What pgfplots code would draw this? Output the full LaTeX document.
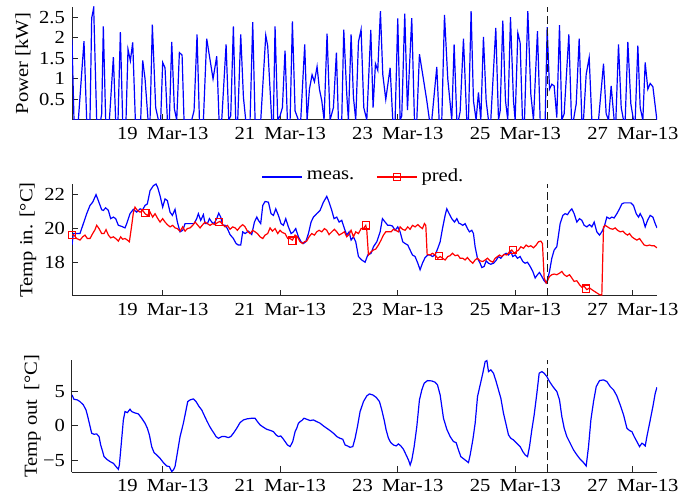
\documentclass[border=0pt]{standalone}
\usepackage{fontspec}
\setmainfont[FakeStretch=1.12]{Liberation Serif}
\usepackage{pgfplots}
\pgfplotsset{compat=1.18}

\pgfplotsset{
  panel/.style={scale only axis, width=292.5pt, anchor=south west,
    axis x line=bottom, axis y line=left,
    axis line style={-, black!85, line width=0.5pt},
    tick align=inside, major tick length=3pt,
    tick style={black!85, line width=0.5pt},
    xmin=17.456, xmax=27.41, xtick={19,21,23,25,27},
    xticklabels={{19\enspace Mar-13},{21\enspace Mar-13},{23\enspace Mar-13},{25\enspace Mar-13},{27\enspace Mar-13}},
    clip=true},
  ylabelx/.style={ylabel style={at={(axis description cs:#1,0.5)},anchor=center}},
  sep/.style={black!90, dash pattern=on 4pt off 2pt, line width=0.75pt, forget plot}
}

\begin{document}
\begin{tikzpicture}[font=\fontsize{9.2}{11}\selectfont]
\useasboundingbox (0,0) rectangle (346.5pt,248.5pt);

% power
\begin{axis}[panel, at={(36pt,188.5pt)}, height=56.5pt,
  ymin=0, ymax=2.75, ytick={0.5,1,1.5,2,2.5}, yticklabels={0.5,1,1.5,2,2.5},
  ylabel={Power [kW]}, ylabelx=-0.0838]
\addplot[blue, line width=0.6pt] coordinates {
(17.456,1.96) (17.490,0) (17.564,0) (17.660,1.92) (17.706,0) (17.762,0) (17.791,2.48) (17.825,2.73) (17.876,0) (17.944,0) (17.961,0.15) (17.989,2.28) (18.029,0) (18.092,0) (18.160,1.53) (18.199,0) (18.239,0) (18.279,2.14) (18.318,0) (18.375,0) (18.409,1.72) (18.449,1.44) (18.489,1.89) (18.534,0) (18.625,0) (18.659,1.45) (18.699,1.0) (18.750,0) (18.784,0) (18.823,2.32) (18.880,0.3) (18.926,0) (18.965,0) (18.999,1.4) (19.039,1.27) (19.079,0) (19.113,0) (19.153,1.9) (19.198,0.27) (19.238,0) (19.283,1.64) (19.329,1.58) (19.362,0) (19.493,0) (19.533,0.23) (19.584,2.08) (19.624,0) (19.692,0) (19.748,1.98) (19.856,1.0) (19.919,1.55) (19.958,0) (20.004,0) (20.078,1.84) (20.123,0) (20.157,0.1) (20.202,2.28) (20.242,0) (20.276,0) (20.327,2.08) (20.373,0.55) (20.412,0) (20.486,0) (20.531,2.38) (20.571,0) (20.668,0) (20.753,2.06)
(20.786,1.8) (20.854,0) (20.883,0) (20.911,2.28) (20.957,0) (20.996,0.1) (21.036,0.3) (21.081,1.69) (21.121,0) (21.167,0) (21.206,2.4) (21.252,0.22) (21.308,0) (21.348,0) (21.416,1.84) (21.456,0) (21.496,0.75) (21.541,1.1) (21.581,0.93) (21.626,1.3) (21.666,0.75) (21.706,0.47) (21.745,0) (21.796,2.1) (21.847,0) (21.904,0.3) (21.955,1.64) (21.989,0) (22.046,0) (22.080,2.2) (22.131,0.63) (22.159,0) (22.205,2.08) (22.245,0.55) (22.284,0) (22.330,1.9) (22.375,2.2) (22.421,0.3) (22.472,0) (22.540,2.19) (22.579,0.3) (22.619,1.37) (22.659,1.21) (22.704,2.65) (22.744,1.11) (22.795,0.5) (22.869,1.27) (22.914,0) (22.954,0) (22.999,2.47) (23.039,0) (23.067,0.1) (23.118,2.59) (23.164,0.24) (23.237,2.48) (23.283,0) (23.323,0) (23.368,1.6) (23.436,0.99) (23.493,0.47) (23.538,0) (23.578,0) (23.663,1.29) (23.703,0) (23.748,0) (23.794,2.56) (23.850,1.0) (23.918,0) (23.958,1.84) (24.004,0) (24.032,0)
(24.060,0.2) (24.117,1.98) (24.173,0) (24.202,0) (24.247,2.65) (24.287,0.47) (24.332,0) (24.372,0.67) (24.412,0) (24.457,2.02) (24.503,0.47) (24.542,0) (24.582,0) (24.667,2.24) (24.713,0) (24.741,0.22) (24.786,2.42) (24.832,0.47) (24.871,0) (24.917,2.5) (24.968,0.47) (24.996,0) (25.042,2.12) (25.081,1.88) (25.121,0) (25.155,0) (25.212,2.65) (25.263,0.63) (25.308,0) (25.376,2.16) (25.422,0) (25.507,0) (25.541,2.26) (25.581,0.75) (25.620,0.87) (25.660,0.83) (25.705,0.06) (25.751,2.31) (25.791,0) (25.830,0.15) (25.910,2.08) (25.955,0) (25.989,0) (26.035,0.39) (26.086,1.98) (26.131,0) (26.159,0) (26.205,1.11) (26.256,1.52) (26.301,0) (26.415,0) (26.500,1.37) (26.545,0.15) (26.585,0) (26.630,0.83) (26.681,0) (26.710,0) (26.755,1.84) (26.801,0.3) (26.840,0) (26.869,0) (26.914,1.9) (26.965,0.39) (27.010,0) (27.039,0) (27.084,1.81) (27.124,0.3) (27.169,0) (27.209,1.4) (27.254,0.75) (27.294,0.89) (27.340,0.81) (27.408,0)
};
\addplot[sep] coordinates {(25.545,0) (25.545,2.75)};
\end{axis}

% indoor temperature
\begin{axis}[panel, at={(36pt,100.5pt)}, height=56pt,
  ymin=16.07, ymax=22.6, ytick={18,20,22}, yticklabels={18,20,22},
  ylabel={Temp in. [°C]}, ylabelx=-0.0752,
  legend style={draw=none, fill=none, at={(0.5,1.0625)}, anchor=center,
    legend columns=-1, inner sep=0pt,
    /tikz/every even column/.append style={column sep=9pt}},
  legend image code/.code={\draw[mark repeat=2,mark phase=2,#1] plot coordinates {(0pt,0pt) (10pt,0pt) (20pt,0pt)};}]
\addplot[blue, line width=0.6pt] coordinates {
(17.456,19.04) (17.479,19.71) (17.592,19.71) (17.649,20.29) (17.706,20.87) (17.762,21.35) (17.808,21.54) (17.865,21.98) (17.904,21.63) (17.961,21.10) (17.989,21.06) (18.029,21.21) (18.075,21.06) (18.114,20.58) (18.160,20.67) (18.199,20.58) (18.245,20.19) (18.301,20.13) (18.358,20.04) (18.387,20.29) (18.443,20.87) (18.500,21.12) (18.557,20.96) (18.614,21.15) (18.659,21.10) (18.699,21.35) (18.738,21.44) (18.784,22.21) (18.840,22.50) (18.886,22.60) (18.914,22.40) (18.954,21.92) (18.999,21.25) (19.039,21.73) (19.079,21.63) (19.124,20.96) (19.164,20.77) (19.209,21.12) (19.249,20.38) (19.294,19.81) (19.340,19.90) (19.380,20.29) (19.465,20.29) (19.533,20.29) (19.578,20.58) (19.606,20.87) (19.646,20.48) (19.692,20.81) (19.720,20.29) (19.760,20.29) (19.794,20.58) (19.833,20.38) (19.873,20.29) (19.918,20.58) (19.953,20.90) (19.987,20.67) (20.021,20.19) (20.060,20.19) (20.100,20.00) (20.145,19.65) (20.202,19.42) (20.248,19.13) (20.287,19.04) (20.327,19.04) (20.361,19.81) (20.401,19.71) (20.458,19.85) (20.514,19.65) (20.560,20.38) (20.600,20.67) (20.628,20.48) (20.667,20.29) (20.702,21.35) (20.741,21.58)
(20.798,21.54) (20.843,20.87) (20.883,20.77) (20.923,21.15) (20.968,20.77) (21.013,20.29) (21.053,20.19) (21.093,20.58) (21.138,20.10) (21.184,19.71) (21.223,19.81) (21.263,20.00) (21.308,19.52) (21.354,19.23) (21.394,19.13) (21.433,19.23) (21.479,19.71) (21.524,20.38) (21.564,20.67) (21.620,20.87) (21.677,21.06) (21.734,21.54) (21.791,21.88) (21.830,21.54) (21.876,21.06) (21.915,20.58) (21.961,20.67) (22.001,20.38) (22.046,20.48) (22.091,20.00) (22.131,19.62) (22.171,19.81) (22.205,19.33) (22.245,19.52) (22.284,19.23) (22.330,18.37) (22.386,18.17) (22.443,18.04) (22.489,18.46) (22.545,18.56) (22.585,18.94) (22.642,19.23) (22.699,19.81) (22.738,20.58) (22.784,20.38) (22.829,20.19) (22.869,20.19) (22.908,20.15) (22.954,19.90) (22.999,20.10) (23.039,19.81) (23.084,19.23) (23.124,19.13) (23.169,19.04) (23.209,18.75) (23.249,18.46) (23.294,18.37) (23.340,17.98) (23.379,17.60) (23.419,17.98) (23.464,18.31) (23.510,18.46) (23.550,18.46) (23.589,18.37) (23.635,18.46) (23.680,18.85) (23.720,19.23) (23.760,20.00) (23.805,20.77) (23.833,21.15) (23.873,20.87) (23.918,20.58) (23.964,20.38) (24.004,20.58) (24.043,20.29)
(24.060,20.29) (24.105,20.19) (24.145,20.29) (24.185,20.00) (24.219,19.81) (24.259,19.90) (24.287,19.71) (24.315,18.94) (24.355,18.27) (24.400,17.98) (24.429,17.73) (24.469,17.79) (24.503,18.12) (24.542,17.98) (24.582,17.92) (24.627,17.98) (24.667,18.12) (24.713,18.37) (24.752,18.27) (24.798,18.46) (24.843,18.56) (24.883,18.46) (24.922,18.65) (24.956,18.37) (24.996,18.46) (25.036,18.27) (25.081,18.37) (25.127,18.08) (25.166,17.98) (25.206,18.04) (25.252,17.79) (25.297,17.50) (25.337,17.12) (25.376,17.31) (25.410,17.44) (25.450,17.21) (25.490,16.96) (25.524,16.83) (25.547,17.02) (25.581,17.50) (25.620,18.27) (25.660,18.75) (25.705,18.94) (25.734,19.62) (25.762,20.29) (25.808,20.77) (25.847,20.87) (25.887,20.81) (25.921,21.00) (25.961,21.15) (26.000,20.87) (26.046,20.38) (26.091,20.58) (26.131,20.48) (26.171,20.19) (26.216,20.10) (26.262,20.23) (26.301,20.10) (26.341,20.38) (26.386,19.81) (26.432,19.62) (26.471,19.81) (26.511,20.10) (26.557,20.67) (26.602,20.58) (26.642,20.67) (26.681,20.62) (26.727,20.87) (26.772,21.15) (26.812,21.44) (26.852,21.50) (26.925,21.50) (26.965,21.50) (27.010,21.35) (27.056,20.87) (27.096,20.67) (27.124,20.87) (27.169,20.58) (27.209,20.10) (27.249,20.48) (27.294,20.77) (27.340,20.67) (27.379,20.29) (27.410,20.04)
};
\addlegendentry{meas.}
\addplot[red, line width=0.6pt, legend image post style={mark=square, mark size=1.8pt, mark options={red}}] coordinates {
(17.456,19.65) (17.490,19.62) (17.535,19.42) (17.592,19.33) (17.638,19.52) (17.677,19.62) (17.717,19.42) (17.762,19.42) (17.808,19.71) (17.848,19.94) (17.876,20.19) (17.916,20.00) (17.961,19.71) (18.001,19.71) (18.035,19.94) (18.075,19.62) (18.114,19.46) (18.160,19.52) (18.199,19.42) (18.245,19.27) (18.284,19.52) (18.318,19.38) (18.358,19.42) (18.398,19.33) (18.432,19.23) (18.472,20.19) (18.500,20.92) (18.528,21.25) (18.568,21.06) (18.614,20.96) (18.659,21.06) (18.699,20.87) (18.738,20.77) (18.784,20.96) (18.829,20.67) (18.869,20.87) (18.909,20.62) (18.954,20.38) (18.999,20.58) (19.039,20.38) (19.079,20.23) (19.124,20.10) (19.170,20.19) (19.209,20.04) (19.249,20.00) (19.294,19.85) (19.340,20.10) (19.380,19.85) (19.419,20.00) (19.465,20.04) (19.510,20.19) (19.550,20.38) (19.589,20.23) (19.635,20.04) (19.680,20.23) (19.720,20.38) (19.760,20.29) (19.805,20.19) (19.850,20.29) (19.890,20.23) (19.930,20.35) (19.975,20.42) (20.021,20.23) (20.060,20.10) (20.100,20.19) (20.145,19.96) (20.191,20.10) (20.231,20.04) (20.270,19.90) (20.316,20.10) (20.361,20.23) (20.401,20.10) (20.441,19.85) (20.486,19.71) (20.531,19.90) (20.571,19.81) (20.611,19.71) (20.656,19.52) (20.702,19.42) (20.741,19.62)
(20.786,19.71) (20.826,20.04) (20.866,19.85) (20.911,20.00) (20.957,19.71) (20.996,19.90) (21.036,19.77) (21.081,19.71) (21.127,19.42) (21.167,19.42) (21.206,19.33) (21.252,19.62) (21.291,19.52) (21.337,19.23) (21.377,19.13) (21.411,19.23) (21.450,19.27) (21.490,19.52) (21.535,19.71) (21.581,19.62) (21.620,19.81) (21.660,19.90) (21.706,19.81) (21.751,20.00) (21.791,19.90) (21.830,19.65) (21.876,19.81) (21.921,19.96) (21.961,19.81) (22.001,19.62) (22.046,19.71) (22.091,19.81) (22.131,19.52) (22.171,19.67) (22.205,19.90) (22.245,19.52) (22.284,19.81) (22.330,19.71) (22.375,20.00) (22.415,20.00) (22.455,20.19) (22.472,19.90) (22.500,18.46) (22.545,18.65) (22.585,18.75) (22.625,18.81) (22.670,19.04) (22.715,19.33) (22.755,19.62) (22.795,19.81) (22.840,19.81) (22.886,19.81) (22.925,19.96) (22.965,19.90) (23.011,19.81) (23.039,20.10) (23.079,19.96) (23.124,19.90) (23.169,20.10) (23.209,19.96) (23.249,20.19) (23.294,20.10) (23.340,20.23) (23.379,20.10) (23.419,20.00) (23.453,20.29) (23.476,20.19) (23.499,18.50) (23.550,18.46) (23.589,18.56) (23.635,18.46) (23.680,18.27) (23.720,18.37) (23.760,18.27) (23.805,18.17) (23.850,18.37) (23.890,18.42) (23.930,18.56) (23.975,18.42) (24.021,18.46) (24.060,18.27)
(24.105,18.27) (24.145,18.17) (24.185,18.31) (24.230,18.12) (24.276,17.98) (24.315,18.17) (24.355,18.27) (24.400,18.12) (24.446,18.08) (24.486,18.17) (24.525,18.27) (24.571,18.12) (24.616,18.04) (24.656,18.27) (24.696,18.37) (24.730,18.46) (24.769,18.37) (24.809,18.50) (24.854,18.46) (24.900,18.65) (24.939,18.75) (24.979,18.56) (25.013,18.65) (25.053,18.75) (25.093,18.94) (25.138,18.85) (25.183,19.04) (25.223,18.94) (25.263,19.00) (25.308,18.88) (25.354,19.04) (25.393,19.23) (25.433,19.27) (25.461,19.13) (25.490,17.12) (25.524,16.83) (25.547,16.96) (25.581,17.21) (25.620,17.31) (25.660,17.35) (25.705,17.31) (25.751,17.40) (25.791,17.50) (25.830,17.31) (25.876,17.21) (25.921,17.31) (25.961,17.12) (26.000,16.92) (26.046,16.96) (26.091,16.73) (26.131,16.58) (26.171,16.63) (26.216,16.44) (26.262,16.54) (26.301,16.44) (26.341,16.35) (26.386,16.25) (26.432,16.15) (26.471,16.12) (26.500,20.10) (26.528,20.19) (26.568,20.10) (26.613,20.00) (26.659,19.96) (26.698,20.04) (26.738,19.90) (26.784,19.81) (26.829,19.85) (26.869,19.71) (26.908,19.62) (26.942,19.71) (26.982,19.52) (27.022,19.42) (27.067,19.33) (27.113,19.42) (27.152,19.23) (27.192,19.04) (27.238,19.00) (27.283,19.04) (27.322,19.00) (27.362,19.00) (27.408,18.88)
};
\addlegendentry{pred.}
\addplot[red, only marks, mark=square, mark size=1.8pt, mark options={line width=0.6pt}, forget plot] coordinates {
(17.456,19.62) (18.704,20.90) (19.953,20.38) (21.206,19.30) (22.455,20.19) (23.703,18.40) (24.956,18.75) (26.205,16.50)
};
\addplot[sep] coordinates {(25.545,16.07) (25.545,22.6)};
\end{axis}

% outdoor temperature
\begin{axis}[panel, at={(36pt,12.35pt)}, height=56.15pt,
  ymin=-6.75, ymax=9.6, ytick={-5,0,5}, yticklabels={−5,0,5},
  ylabel={Temp out\enspace[°C]}, ylabelx=-0.0675]
\addplot[blue, line width=0.6pt] coordinates {
(17.456,4.51) (17.490,3.88) (17.547,3.79) (17.592,3.54) (17.649,3.06) (17.694,2.33) (17.717,1.60) (17.751,0.39) (17.791,-1.07) (17.831,-1.21) (17.876,-1.17) (17.916,-1.55) (17.944,-2.77) (17.978,-3.74) (18.001,-4.47) (18.046,-4.85) (18.103,-5.19) (18.160,-5.44) (18.205,-5.92) (18.245,-6.31) (18.262,-5.68) (18.285,-3.50) (18.330,0.87) (18.358,2.09) (18.398,1.94) (18.443,2.43) (18.472,2.09) (18.511,1.94) (18.585,1.75) (18.642,1.12) (18.699,0.39) (18.738,-0.34) (18.773,-1.31) (18.812,-3.01) (18.852,-3.88) (18.897,-4.22) (18.954,-4.71) (19.011,-5.34) (19.068,-5.83) (19.113,-5.92) (19.153,-6.65) (19.181,-6.41) (19.209,-5.92) (19.238,-4.47) (19.295,-1.55) (19.323,-0.58) (19.351,0.39) (19.397,2.33) (19.425,3.54) (19.465,3.79) (19.521,3.93) (19.567,3.54) (19.618,2.82) (19.663,2.33) (19.703,1.60) (19.748,0.78) (19.794,0) (19.834,-0.58) (19.873,-1.07) (19.907,-1.55) (19.947,-1.80) (20.004,-1.55) (20.061,-1.55) (20.117,-1.70) (20.157,-1.55) (20.202,-1.07) (20.259,-0.34) (20.316,0.49) (20.373,0.87) (20.429,1.02) (20.514,1.12) (20.571,1.12) (20.611,0.63) (20.656,0.15) (20.713,-0.19) (20.770,-0.49) (20.838,-0.68) (20.883,-0.83) (20.929,-1.31) (20.968,-1.55) (21.008,-1.46) (21.042,-1.80) (21.082,-2.28) (21.122,-2.77) (21.167,-3.01) (21.212,-2.28) (21.252,-0.83) (21.280,-0.34) (21.309,0.39) (21.337,0.63) (21.366,0.78) (21.405,1.12) (21.451,0.97) (21.507,0.78) (21.564,0.87) (21.621,0.63) (21.678,0.39) (21.734,0) (21.791,-0.34) (21.848,-0.68) (21.905,-1.07) (21.961,-1.55) (22.018,-1.80)
(22.063,-1.94) (22.103,-2.77) (22.143,-2.91) (22.188,-3.11) (22.234,-3.01) (22.273,-1.80) (22.313,-0.10) (22.358,2.09) (22.415,3.54) (22.472,4.37) (22.517,4.66) (22.574,4.51) (22.631,4.17) (22.688,3.54) (22.727,2.33) (22.767,0.87) (22.801,-0.58) (22.841,-1.80) (22.880,-2.43) (22.926,-2.77) (22.971,-2.91) (23.011,-2.62) (23.051,-2.91) (23.096,-3.40) (23.141,-4.22) (23.181,-4.95) (23.210,-5.68) (23.238,-4.95) (23.278,-3.01) (23.323,-0.10) (23.368,3.79) (23.408,5.24) (23.448,6.21) (23.505,6.60) (23.578,6.55) (23.635,6.36) (23.675,5.97) (23.720,4.51) (23.777,1.12) (23.834,-0.49) (23.890,-1.55) (23.947,-2.28) (23.992,-2.43) (24.032,-3.50) (24.072,-4.47) (24.129,-4.85) (24.202,-5.34) (24.231,-4.22) (24.276,-2.04) (24.316,0.39) (24.356,4.27) (24.401,5.97) (24.446,7.67) (24.486,9.37) (24.515,9.51) (24.543,7.91) (24.583,8.16) (24.628,7.67) (24.673,6.46) (24.713,5.24) (24.753,4.03) (24.798,1.84) (24.844,0.15) (24.883,-1.31) (24.923,-1.80) (24.968,-2.04) (25.025,-2.52) (25.082,-3.01) (25.127,-3.74) (25.167,-4.22) (25.207,-4.47) (25.241,-3.01) (25.280,-0.58) (25.320,1.60) (25.366,4.76) (25.405,7.67) (25.451,7.91) (25.490,7.67) (25.536,7.18) (25.581,6.46) (25.638,5.73) (25.706,5.00) (25.751,3.79) (25.791,1.36) (25.831,-0.34) (25.876,-1.55) (25.933,-2.52) (25.990,-3.50) (26.047,-4.22) (26.103,-4.85) (26.160,-5.34) (26.205,-5.83) (26.245,-3.01) (26.285,0.87) (26.330,3.54) (26.376,5.73) (26.432,6.60) (26.500,6.70) (26.557,6.46) (26.614,5.73) (26.671,5.24) (26.727,4.37) (26.784,3.06) (26.841,1.60) (26.898,-0.34) (26.943,-0.68) (26.983,-0.83) (27.022,-1.55) (27.068,-2.28) (27.113,-3.01) (27.153,-2.52) (27.181,-2.67) (27.210,-2.91) (27.238,-1.55) (27.284,0.39) (27.340,2.82) (27.380,4.76) (27.410,5.63)
};
\addplot[sep] coordinates {(25.545,-6.75) (25.545,9.6)};
\end{axis}
\end{tikzpicture}
\end{document}
